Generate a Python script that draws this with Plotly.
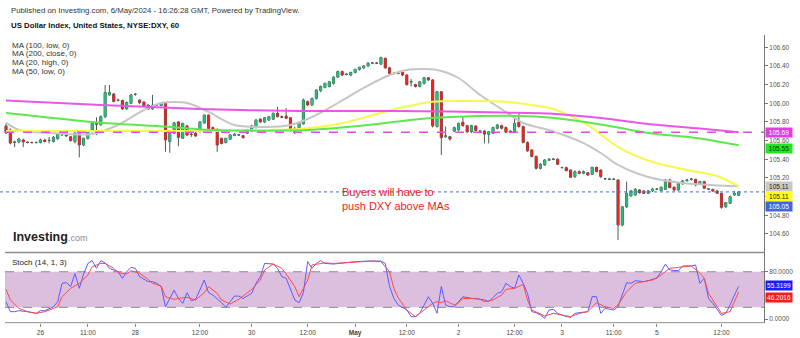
import plotly.graph_objects as go

# ---------------- data: DXY hourly bars (bar number = hours on the chart) ----------------
opens = [105.757, 105.714, 105.580, 105.585, 105.607, 105.585, 105.580, 105.578, 105.580, 105.607,
         105.600, 105.590, 105.620, 105.660, 105.695, 105.640, 105.590, 105.680, 105.553, 105.625,
         105.695, 105.785, 105.770, 105.856, 106.090, 106.100, 106.030, 106.030, 105.940, 106.000,
         106.095, 106.035, 106.014, 105.980, 105.940, 105.980, 105.975, 106.000, 105.590, 105.680,
         105.800, 105.625, 105.757, 105.668, 105.680, 105.695, 105.790, 105.874, 105.740, 105.720,
         105.625, 105.580, 105.615, 105.653, 105.660, 105.653, 105.680, 105.700, 105.740, 105.830,
         105.800, 105.820, 105.830, 105.893, 105.856, 105.863, 105.845, 105.720, 105.714, 105.780,
         106.017, 105.982, 106.053, 106.135, 106.170, 106.180, 106.214, 106.280, 106.340, 106.310,
         106.303, 106.330, 106.364, 106.380, 106.400, 106.430, 106.432, 106.420, 106.482, 106.380,
         106.322, 106.320, 106.332, 106.303, 106.228, 106.200, 106.180, 106.214, 106.274, 106.250,
         105.750, 106.124, 105.640, 105.642, 105.703, 105.714, 105.796, 105.760, 105.695, 105.757,
         105.700, 105.703, 105.668, 105.680, 105.732, 105.760, 105.740, 105.703, 105.690, 105.800,
         105.750, 105.580, 105.500, 105.430, 105.303, 105.339, 105.390, 105.400, 105.400, 105.310,
         105.310, 105.285, 105.214, 105.267, 105.250, 105.256, 105.240, 105.314, 105.285, 105.190,
         105.188, 105.185, 105.178, 104.696, 104.890, 105.006, 105.017, 105.071, 105.060, 105.035,
         105.060, 105.081, 105.064, 105.078, 105.178, 105.100, 105.071, 105.135, 105.170, 105.185,
         105.185, 105.135, 105.160, 105.080, 105.078, 105.060, 105.035, 104.890, 104.928, 105.017,
         105.014]
highs = [105.78, 105.73, 105.60, 105.63, 105.62, 105.59, 105.59, 105.59, 105.62, 105.62,
         105.64, 105.65, 105.68, 105.71, 105.70, 105.65, 105.70, 105.69, 105.63, 105.70,
         105.80, 105.85, 105.87, 106.195, 106.196, 106.11, 106.05, 106.04, 106.02, 106.10,
         106.11, 106.04, 106.02, 105.99, 106.09, 105.99, 106.01, 106.01, 105.70, 105.80,
         105.81, 105.79, 105.77, 105.70, 105.69, 105.81, 105.88, 105.88, 105.75, 105.73,
         105.63, 105.63, 105.67, 105.68, 105.67, 105.66, 105.72, 105.77, 105.83, 105.84,
         105.85, 105.86, 105.90, 105.96, 105.87, 105.95, 105.85, 105.75, 105.79, 106.05,
         106.03, 106.06, 106.15, 106.19, 106.22, 106.24, 106.29, 106.35, 106.35, 106.32,
         106.34, 106.37, 106.39, 106.41, 106.44, 106.44, 106.44, 106.50, 106.49, 106.39,
         106.33, 106.33, 106.34, 106.31, 106.26, 106.21, 106.24, 106.28, 106.28, 106.26,
         106.13, 106.13, 105.75, 105.65, 105.75, 105.79, 105.856, 105.77, 105.77, 105.76,
         105.71, 105.71, 105.70, 105.75, 105.78, 105.77, 105.75, 105.71, 105.856, 105.89,
         105.76, 105.59, 105.51, 105.44, 105.36, 105.40, 105.41, 105.41, 105.41, 105.32,
         105.32, 105.29, 105.28, 105.28, 105.28, 105.26, 105.32, 105.32, 105.29, 105.20,
         105.20, 105.19, 105.185, 104.90, 105.16, 105.07, 105.09, 105.08, 105.07, 105.07,
         105.09, 105.09, 105.11, 105.19, 105.19, 105.11, 105.15, 105.18, 105.19, 105.20,
         105.19, 105.17, 105.17, 105.09, 105.08, 105.07, 105.04, 104.94, 105.01, 105.06,
         105.06]
lows = [105.67, 105.56, 105.53, 105.57, 105.53, 105.57, 105.57, 105.57, 105.57, 105.58,
        105.57, 105.58, 105.61, 105.65, 105.64, 105.59, 105.57, 105.42, 105.54, 105.61,
        105.69, 105.66, 105.76, 105.84, 106.08, 106.01, 106.02, 105.93, 105.93, 105.99,
        106.08, 105.99, 105.96, 105.93, 105.93, 105.97, 105.97, 105.48, 105.47, 105.67,
        105.54, 105.62, 105.65, 105.64, 105.64, 105.69, 105.78, 105.72, 105.69, 105.48,
        105.56, 105.57, 105.61, 105.65, 105.65, 105.62, 105.67, 105.69, 105.73, 105.79,
        105.79, 105.81, 105.82, 105.85, 105.84, 105.83, 105.70, 105.67, 105.70, 105.77,
        105.97, 105.97, 106.04, 106.12, 106.16, 106.17, 106.20, 106.27, 106.29, 106.30,
        106.29, 106.32, 106.35, 106.37, 106.39, 106.42, 106.42, 106.41, 106.37, 106.31,
        106.31, 106.31, 106.29, 106.19, 106.18, 106.17, 106.17, 106.20, 106.24, 105.74,
        105.74, 105.446, 105.63, 105.60, 105.69, 105.70, 105.75, 105.68, 105.68, 105.70,
        105.69, 105.57, 105.57, 105.67, 105.72, 105.72, 105.68, 105.68, 105.68, 105.74,
        105.57, 105.48, 105.42, 105.29, 105.29, 105.33, 105.38, 105.39, 105.34, 105.30,
        105.27, 105.20, 105.20, 105.24, 105.24, 105.22, 105.23, 105.26, 105.20, 105.18,
        105.18, 105.18, 104.535, 104.68, 104.88, 105.00, 105.01, 105.03, 105.03, 105.03,
        105.05, 105.07, 105.06, 105.07, 105.09, 105.06, 105.06, 105.13, 105.16, 105.17,
        105.11, 105.13, 105.08, 105.07, 105.05, 105.03, 104.87, 104.88, 104.92, 105.01,
        105.01]
closes = [105.682, 105.574, 105.585, 105.617, 105.585, 105.580, 105.578, 105.580, 105.607, 105.590,
          105.602, 105.635, 105.670, 105.695, 105.650, 105.600, 105.680, 105.553, 105.625, 105.695,
          105.785, 105.775, 105.856, 106.114, 106.115, 106.020, 106.035, 105.940, 106.007, 106.090,
          106.097, 106.007, 105.971, 105.940, 105.980, 105.982, 106.000, 105.607, 105.695, 105.790,
          105.635, 105.785, 105.660, 105.665, 105.650, 105.800, 105.874, 105.730, 105.705, 105.553,
          105.570, 105.625, 105.660, 105.670, 105.662, 105.632, 105.714, 105.757, 105.820, 105.800,
          105.845, 105.856, 105.893, 105.856, 105.850, 105.840, 105.714, 105.725, 105.785, 106.035,
          105.982, 106.053, 106.142, 106.180, 106.214, 106.230, 106.280, 106.340, 106.303, 106.312,
          106.330, 106.364, 106.386, 106.400, 106.430, 106.432, 106.430, 106.490, 106.380, 106.320,
          106.320, 106.322, 106.303, 106.200, 106.232, 106.180, 106.230, 106.274, 106.250, 105.757,
          106.124, 105.632, 105.650, 105.617, 105.739, 105.785, 105.760, 105.695, 105.760, 105.707,
          105.702, 105.670, 105.695, 105.740, 105.767, 105.732, 105.690, 105.685, 105.785, 105.750,
          105.580, 105.490, 105.430, 105.303, 105.346, 105.392, 105.400, 105.402, 105.346, 105.312,
          105.278, 105.207, 105.267, 105.250, 105.267, 105.231, 105.314, 105.267, 105.214, 105.192,
          105.186, 105.187, 104.696, 104.890, 105.035, 105.060, 105.078, 105.042, 105.035, 105.060,
          105.081, 105.080, 105.100, 105.178, 105.096, 105.071, 105.142, 105.167, 105.178, 105.187,
          105.124, 105.160, 105.090, 105.082, 105.060, 105.035, 104.885, 104.935, 105.000, 105.035,
          105.050]

# moving averages, sampled at bar numbers
ma200_bar = [0, 22, 45, 68, 91, 103, 115, 126, 138, 149, 161, 170]
ma200_val = [106.030, 105.982, 105.939, 105.917, 105.917, 105.912, 105.901, 105.890, 105.842, 105.778, 105.730, 105.69]
ma100_bar = [0, 22, 37, 45, 57, 64, 70, 84, 96, 103, 119, 126, 138, 149, 161, 170]
ma100_val = [105.896, 105.792, 105.750, 105.720, 105.707, 105.707, 105.714, 105.768, 105.832, 105.853, 105.865, 105.848,
             105.773, 105.682, 105.623, 105.55]
ma50_bar = [0, 22, 45, 61, 68, 77, 84, 91, 99, 106, 115, 122, 127, 135, 142, 150, 158, 165, 170]
ma50_val = [105.703, 105.703, 105.703, 105.714, 105.724, 105.778, 105.858, 105.946, 106.017, 106.024, 106.019, 105.982,
            105.939, 105.767, 105.531, 105.371, 105.285, 105.220, 105.11]
ma20_bar = [0, 3, 10, 20, 26, 32, 36, 42, 47, 53, 60, 66, 71, 77, 83, 89, 93, 100, 105, 110, 116, 120, 127, 134, 138,
            142, 149, 157, 170]
ma20_val = [105.792, 105.714, 105.682, 105.671, 105.767, 105.928, 106.003, 106.003, 105.907, 105.767, 105.746, 105.767,
            105.853, 106.003, 106.164, 106.303, 106.357, 106.357, 106.271, 106.089, 105.907, 105.789, 105.698, 105.574,
            105.467, 105.339, 105.210, 105.146, 105.11]

# stochastic (14, 1, 3)
stoch_k_bar = [0, 1, 2, 3, 5, 6, 7, 8, 9, 11, 12, 13, 14, 15, 16, 17, 18, 19, 20, 21, 22, 23, 24, 26, 27, 28, 29, 30,
               31, 33, 34, 35, 36, 37, 38, 39, 40, 41, 42, 43, 44, 45, 46, 47, 48, 50, 51, 52, 53, 54, 55, 57, 58, 59,
               60, 62, 63, 64, 65, 67, 68, 69, 70, 71, 72, 73, 74, 76, 78, 81, 84, 87, 88, 89, 90, 91, 93, 94, 95, 96,
               98, 99, 100, 101, 102, 103, 104, 105, 106, 108, 109, 111, 112, 114, 115, 116, 117, 118, 119, 120, 121,
               122, 123, 124, 125, 126, 127, 128, 130, 131, 132, 133, 135, 136, 137, 138, 139, 141, 142, 144, 145, 146,
               148, 149, 151, 152, 153, 154, 156, 157, 159, 160, 161, 162, 163, 164, 165, 166, 167, 168, 169, 170]
stoch_k_val = [29.5, 12.7, 12.7, 14.4, 12.7, 11.0, 9.9, 14.4, 14.4, 21.0, 29.5, 60.5, 61.6, 55.0, 77.0, 52.0, 76.0, 94.0,
               98.7, 85.8, 98.7, 95.0, 85.8, 80.0, 68.9, 80.0, 87.4, 85.8, 71.7, 63.3, 63.3, 60.5, 55.0, 21.0, 35.0,
               49.0, 35.0, 26.7, 44.7, 31.2, 33.4, 49.0, 66.0, 44.7, 40.8, 27.8, 20.0, 29.5, 39.0, 39.0, 35.0, 43.6,
               60.5, 71.7, 94.0, 93.0, 85.8, 71.7, 68.9, 32.4, 27.8, 44.7, 97.0, 85.8, 94.0, 98.7, 94.0, 93.0, 95.0,
               97.0, 98.0, 98.0, 94.0, 55.0, 35.0, 24.0, 15.5, 4.3, 4.3, 9.9, 37.9, 26.7, 10.0, 55.0, 23.9, 21.0, 21.0,
               29.5, 37.9, 35.0, 35.0, 32.4, 29.5, 43.6, 46.4, 60.5, 55.0, 52.0, 74.5, 60.5, 43.6, 12.7, 11.0, 7.1,
               1.5, 15.5, 16.6, 9.9, 4.3, 3.2, 9.9, 11.0, 12.7, 38.0, 38.0, 9.9, 18.3, 15.5, 21.0, 61.6, 60.5, 65.0,
               63.3, 65.0, 69.0, 80.0, 93.0, 83.0, 81.7, 89.8, 89.8, 91.4, 60.5, 68.9, 35.0, 26.7, 15.5, 6.5, 9.9,
               23.9, 40.8, 55.3199]
stoch_d_bar = [0, 1, 3, 5, 7, 9, 12, 13, 15, 17, 19, 20, 22, 23, 25, 26, 28, 29, 31, 33, 34, 36, 37, 39, 40, 42, 44, 46,
               47, 49, 50, 52, 54, 55, 57, 59, 60, 62, 64, 65, 67, 68, 70, 71, 74, 76, 79, 82, 85, 87, 89, 90, 91, 93,
               95, 97, 99, 100, 101, 102, 104, 105, 106, 108, 110, 111, 113, 115, 116, 118, 120, 121, 122, 125, 127,
               129, 131, 133, 135, 137, 139, 141, 142, 144, 146, 148, 150, 152, 154, 156, 159, 161, 162, 163, 165, 166,
               168, 169, 170]
stoch_d_val = [50.3, 32.4, 18.3, 12.7, 9.9, 12.7, 21.0, 37.9, 52.0, 60.5, 74.5, 88.6, 94.0, 94.0, 85.8, 78.5, 76.2, 81.8,
               77.3, 67.2, 60.5, 56.0, 37.9, 33.4, 35.0, 36.8, 32.4, 44.7, 54.8, 43.6, 32.4, 25.6, 33.4, 39.0, 50.3,
               66.0, 83.0, 93.0, 85.8, 76.2, 55.0, 37.9, 66.0, 91.4, 95.0, 94.0, 95.0, 97.0, 98.0, 97.0, 80.0, 52.0,
               36.0, 15.5, 4.3, 15.5, 26.7, 29.5, 27.8, 31.2, 23.9, 27.8, 35.0, 35.0, 33.4, 29.5, 32.4, 40.8, 50.3,
               52.0, 58.8, 32.4, 15.5, 5.4, 9.9, 7.1, 4.3, 9.9, 12.7, 27.8, 21.0, 18.3, 23.9, 46.4, 60.5, 63.3, 66.0,
               74.5, 85.8, 87.4, 89.8, 77.8, 68.9, 43.6, 21.0, 9.9, 12.7, 28.0, 46.2016]

# time axis labels
tick_bar = [8, 19, 30, 45, 57, 70, 81, 93, 105, 118, 129, 141, 151, 166]
tick_text = ["26", "11:00", "28", "12:00", "30", "12:00", "<b>May</b>", "12:00", "2", "12:00", "3", "11:00", "5", "12:00"]

price_ticks = [104.6, 104.8, 105.0, 105.2, 105.4, 105.6, 105.8, 106.0, 106.2, 106.4, 106.6]
level_line = 105.69

# ---------------- styling ----------------
W, H = 800, 338
FONT = "Liberation Sans, Arial, sans-serif"
UP, DN, WICK = "#1fc27a", "#ff1a1a", "#4e5a53"
C_MA200, C_MA100, C_MA50, C_MA20 = "#ea55ea", "#5ee84e", "#f8f84c", "#c6c6c6"
C_K, C_D = "#5b5bff", "#ff4a4a"
BAND = "#dcbfdf"

BAR_PX = 4.31          # horizontal spacing of bars in pixels
FIRST_BAR_PX = 6       # pixel position of bar 0
PLOT_RIGHT = 764       # price scale line


def fx(p):
    return p / W


def fy(p):
    return 1 - p / H


x_lo = -FIRST_BAR_PX / BAR_PX
x_hi = x_lo + PLOT_RIGHT / BAR_PX

bars = list(range(len(closes)))
body_top = [max(o, c) for o, c in zip(opens, closes)]
body_bot = [min(o, c) for o, c in zip(opens, closes)]

fig = go.Figure()

# wicks (also gives dark doji marks)
fig.add_trace(go.Candlestick(
    x=bars, open=opens, high=highs, low=lows, close=closes,
    increasing=dict(line=dict(color=WICK, width=1), fillcolor=WICK),
    decreasing=dict(line=dict(color=WICK, width=1), fillcolor=WICK),
    whiskerwidth=0, hoverinfo="skip", xaxis="x", yaxis="y"))
# coloured bodies
fig.add_trace(go.Candlestick(
    x=bars, open=opens, high=body_top, low=body_bot, close=closes,
    increasing=dict(line=dict(color=UP, width=0), fillcolor=UP),
    decreasing=dict(line=dict(color=DN, width=0), fillcolor=DN),
    whiskerwidth=0, hoverinfo="skip", xaxis="x", yaxis="y"))

for bx, vals, col in [(ma20_bar, ma20_val, C_MA20), (ma50_bar, ma50_val, C_MA50),
                      (ma100_bar, ma100_val, C_MA100), (ma200_bar, ma200_val, C_MA200)]:
    fig.add_trace(go.Scatter(x=bx, y=vals, mode="lines", hoverinfo="skip",
                             line=dict(color=col, width=2, shape="spline", smoothing=0.8),
                             xaxis="x", yaxis="y"))

fig.add_trace(go.Scatter(x=stoch_k_bar, y=stoch_k_val, mode="lines", hoverinfo="skip",
                         line=dict(color=C_K, width=1), xaxis="x2", yaxis="y2"))
fig.add_trace(go.Scatter(x=stoch_d_bar, y=stoch_d_val, mode="lines", hoverinfo="skip",
                         line=dict(color=C_D, width=1), xaxis="x2", yaxis="y2"))

axis_font = dict(family=FONT, size=6.5, color="#555")

# price range derived from the pixel scale of the main panel
px_per_unit = 93.3
y_top = 106.6 + (47.3 - 35) / px_per_unit
y_bot = 106.6 - (252 - 47.3) / px_per_unit

fig.update_layout(
    width=W, height=H, margin=dict(l=0, r=0, t=0, b=0),
    paper_bgcolor="white", plot_bgcolor="white", showlegend=False,
    font=dict(family=FONT),
    xaxis=dict(domain=[0, fx(PLOT_RIGHT)], range=[x_lo, x_hi], visible=False,
               rangeslider=dict(visible=False), anchor="y", fixedrange=True),
    yaxis=dict(domain=[fy(252), fy(35)], range=[y_bot, y_top], side="right", anchor="x",
               tickvals=price_ticks, ticktext=[f"{v:.2f}" for v in price_ticks],
               ticks="outside", ticklen=3, tickcolor="#777", tickfont=axis_font,
               showline=True, linecolor="#777", linewidth=1, showgrid=False, zeroline=False),
    xaxis2=dict(domain=[0, fx(PLOT_RIGHT)], range=[x_lo, x_hi], anchor="y2",
                tickvals=tick_bar, ticktext=tick_text, ticks="outside", ticklen=3,
                tickcolor="#888", tickfont=dict(family=FONT, size=6.5, color="#444"),
                showgrid=False, zeroline=False, showline=False),
    yaxis2=dict(domain=[fy(322.7), fy(252)], range=[-5.9, 113.3], side="right", anchor="x2",
                tickvals=[0, 80], ticktext=["0.0000", "80.0000"],
                ticks="outside", ticklen=3, tickcolor="#777", tickfont=axis_font,
                showline=True, linecolor="#777", linewidth=1, showgrid=False, zeroline=False),
)

shapes = [
    dict(type="rect", xref="paper", yref="y2", x0=fx(5), x1=fx(PLOT_RIGHT), y0=20, y1=80,
         fillcolor=BAND, line=dict(width=0), layer="below"),
    dict(type="line", xref="paper", yref="y2", x0=fx(5), x1=fx(PLOT_RIGHT), y0=80, y1=80,
         line=dict(color="#8a8a8a", width=1, dash="dash"), layer="below"),
    dict(type="line", xref="paper", yref="y2", x0=fx(5), x1=fx(PLOT_RIGHT), y0=20, y1=20,
         line=dict(color="#8a8a8a", width=1, dash="dash"), layer="below"),
    dict(type="line", xref="paper", yref="paper", x0=fx(5), x1=fx(PLOT_RIGHT), y0=fy(252.5), y1=fy(252.5),
         line=dict(color="#8c8c8c", width=1.5)),
    dict(type="line", xref="paper", yref="paper", x0=fx(5), x1=fx(PLOT_RIGHT), y0=fy(322.7), y1=fy(322.7),
         line=dict(color="#8c8c8c", width=1)),
    dict(type="line", xref="paper", yref="y", x0=fx(5), x1=fx(PLOT_RIGHT), y0=level_line, y1=level_line,
         line=dict(color="#ee44ee", width=1.5, dash="dash")),
    dict(type="line", xref="paper", yref="y", x0=0, x1=fx(PLOT_RIGHT), y0=closes[-1], y1=closes[-1],
         line=dict(color="#4a6ae6", width=1, dash="dot")),
]


def text_note(x, y, text, size, color="#333", **kw):
    return dict(x=fx(x), y=fy(y), xref="paper", yref="paper", xanchor="left", yanchor="middle",
                text=text, showarrow=False, font=dict(family=FONT, size=size, color=color), **kw)


def side_label(val, text, yref, bg, fg, shift=0):
    return dict(x=fx(765), xref="paper", xanchor="left", y=val, yref=yref, yanchor="middle",
                text=text, showarrow=False, bgcolor=bg, width=25, height=8, borderpad=0.5,
                align="center", yshift=shift, font=dict(family=FONT, size=6.5, color=fg))


annotations = [
    text_note(9, 10, "Published on Investing.com, 6/May/2024 - 16:26:28 GMT, Powered by TradingView.", 7.8),
    text_note(9, 25, "<b>US Dollar Index, United States, NYSE:DXY, 60</b>", 7.8, "#111"),
    text_note(10, 45, "MA (100, low, 0)", 8),
    text_note(10, 53.7, "MA (200, close, 0)", 8),
    text_note(10, 62.4, "MA (20, high, 0)", 8),
    text_note(10, 71.1, "MA (50, low, 0)", 8),
    text_note(11, 237, "<b>Investing</b><span style='font-size:9px;color:#8a8a8a'>.com</span>", 12.5, "#222"),
    text_note(340, 192, "Buyers will have to", 11, "#ee1c1c"),
    text_note(340, 206, "push DXY above MAs", 11, "#ee1c1c"),
    text_note(10, 262, "Stoch (14, 1, 3)", 8, "#222"),
    side_label(level_line, f"{level_line:.2f}", "y", "#e23de2", "white"),
    side_label(ma100_val[-1], f"{ma100_val[-1]:.2f}", "y", "#22e622", "#113311", -3),
    side_label(ma20_val[-1], f"{ma20_val[-1]:.2f}", "y", "#c8c8c8", "#222"),
    side_label(ma50_val[-1], f"{ma50_val[-1]:.2f}", "y", "#ffff1a", "#222", -10),
    side_label(closes[-1], f"{closes[-1]:.2f}", "y", "#3f68dc", "white", -15),
    side_label(stoch_k_val[-1], f"{stoch_k_val[-1]:.4f}", "y2", "#1a1aff", "white", 1),
    side_label(stoch_d_val[-1], f"{stoch_d_val[-1]:.4f}", "y2", "#ff1a1a", "white", -6),
]

fig.update_layout(shapes=shapes, annotations=annotations)
fig.write_html("out.html")
